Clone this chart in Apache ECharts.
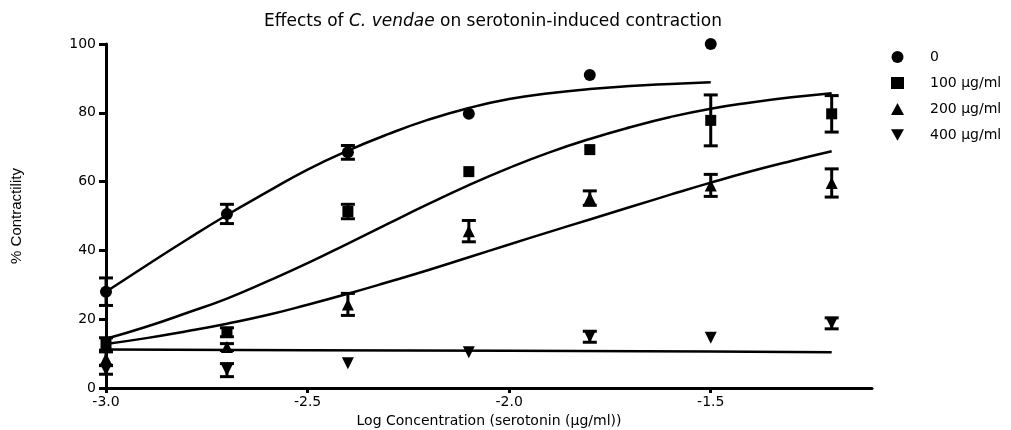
<!DOCTYPE html>
<html><head><meta charset="utf-8">
<script src="https://cdn.jsdelivr.net/npm/echarts@6/dist/echarts.min.js"></script>
<style>html,body{margin:0;padding:0;background:#fff}#c{width:1011px;height:430px}</style>
</head><body><div id="c"></div>
<script>
// ---- data ----
const doseX = [-3.0, -2.7, -2.4, -2.1, -1.8, -1.5, -1.2];
const seriesNames = ['0', '100 µg/ml', '200 µg/ml', '400 µg/ml'];
const ctrlMean = [28, 50.6, 68.5, 79.7, 91, 100];
const ctrlSem  = [4, 2.8, 2, 0, 0, 0];
const c100Mean = [12.8, 16.2, 51.3, 62.9, 69.3, 77.8, 79.7];
const c100Sem  = [1.8, 1.3, 2.1, 0, 0, 7.4, 5.3];
const c200Mean = [8.5, 11.9, 24.3, 45.6, 55.2, 58.9, 59.6];
const c200Sem  = [2, 1, 3.2, 3.1, 2.1, 3.2, 4.1];
const c400Mean = [5.3, 5.2, 7.2, 10.4, 14.9, 14.6, 18.8];
const c400Sem  = [1.3, 1.9, 0, 0, 1.6, 0, 1.6];
// fitted curves
const fitX = [-3.0,-2.9,-2.8,-2.7,-2.6,-2.5,-2.4,-2.3,-2.2,-2.1,-2.0,-1.9,-1.8,-1.7,-1.6,-1.5,-1.4,-1.3,-1.2];
const fitCtrl = [28,35.6,43.1,50.3,57,63.5,69,73.8,78,81.4,84,85.7,86.9,87.8,88.4,88.9];
const fit100 = [14.3,17.8,21.8,26,31,36.3,42,47.8,53.5,59,64,68.5,72.4,75.8,78.8,81.2,83,84.5,85.7];
const fit200 = [12.8,14.5,16.5,18.7,21.2,24.2,27.4,30.8,34.3,38,41.7,45.4,49,52.6,56.2,59.7,63,66,68.8];
const fit400X = [-3.0, -2.5, -2.0, -1.5, -1.2];
const fit400 = [11.2, 11.0, 10.8, 10.6, 10.4];
const xTicks = [-3.0, -2.5, -2.0, -1.5];

const downTri = 'path://M0,0 L10,0 L5,9 Z';
const symbols = ['circle', 'rect', 'triangle', downTri];
const sizes = [12, 11, 12, 12];
const means = [ctrlMean, c100Mean, c200Mean, c400Mean];
const sems = [ctrlSem, c100Sem, c200Sem, c400Sem];
const fits = [[fitX, fitCtrl], [fitX, fit100], [fitX, fit200], [fit400X, fit400]];

function errRender(params, api) {
  const x = api.value(0), y = api.value(1), e = api.value(2);
  const t = api.coord([x, y + e]), b = api.coord([x, y - e]);
  const hw = 7, st = {stroke: '#000', lineWidth: 3};
  return {type: 'group', children: [
    {type: 'line', shape: {x1: t[0], y1: t[1], x2: b[0], y2: b[1]}, style: st},
    {type: 'line', shape: {x1: t[0]-hw, y1: t[1], x2: t[0]+hw, y2: t[1]}, style: st},
    {type: 'line', shape: {x1: b[0]-hw, y1: b[1], x2: b[0]+hw, y2: b[1]}, style: st}
  ]};
}

const series = [];
fits.forEach((f, i) => {
  series.push({type: 'line', name: 'fit' + i, data: f[1].map((v, k) => [f[0][k], v]),
    symbol: 'none', smooth: i < 3 ? true : false, lineStyle: {color: '#000', width: 2.5}, z: 2, silent: true});
});
means.forEach((m, i) => {
  const ed = [];
  m.forEach((v, k) => { if (sems[i][k] > 0) ed.push([doseX[k], v, sems[i][k]]); });
  series.push({type: 'custom', name: 'err' + i, data: ed, renderItem: errRender, z: 3, clip: false, silent: true});
  series.push({type: 'scatter', name: seriesNames[i], data: m.map((v, k) => [doseX[k], v]),
    symbol: symbols[i], symbolSize: sizes[i], itemStyle: {color: '#000', opacity: 1}, z: 4, clip: false});
});

const chart = echarts.init(document.getElementById('c'), null, {renderer: 'canvas'});
chart.setOption({
  animation: false,
  textStyle: {fontFamily: 'DejaVu Sans', color: '#000'},
  title: {
    text: '{n|Effects of }{i|C. vendae}{n| on serotonin-induced contraction}',
    left: 488, top: 8, textAlign: 'center',
    textStyle: {fontWeight: 'normal', rich: {
      n: {fontFamily: 'DejaVu Sans', fontWeight: 'normal', fontSize: 17, color: '#000'},
      i: {fontFamily: 'DejaVu Sans', fontWeight: 'normal', fontStyle: 'italic', fontSize: 17, color: '#000'}
    }}
  },
  legend: {
    data: seriesNames.map((n, i) => ({name: n, icon: symbols[i], itemStyle: {color: '#000', opacity: 1}})),
    orient: 'vertical', left: 886, top: 45, itemGap: 12, itemWidth: 13, itemHeight: 12,
    textStyle: {fontFamily: 'DejaVu Sans', fontSize: 14, color: '#000', padding: [0, 0, 0, 21]}
  },
  grid: {left: 106, right: 139, top: 44, bottom: 42, containLabel: false, outerBoundsMode: 'none'},
  xAxis: {
    type: 'value', min: -3.0, max: -1.1,
    name: 'Log Concentration (serotonin (µg/ml))', nameLocation: 'middle', nameGap: 24,
    nameTextStyle: {fontFamily: 'DejaVu Sans', fontSize: 14, color: '#000'},
    axisLine: {show: true, lineStyle: {color: '#000', width: 3}},
    axisTick: {show: true, length: 5, lineStyle: {color: '#000', width: 3}, customValues: xTicks},
    axisLabel: {color: '#000', fontFamily: 'DejaVu Sans', fontSize: 14, margin: 7,
      customValues: xTicks, formatter: v => v.toFixed(1)},
    splitLine: {show: false}
  },
  yAxis: {
    type: 'value', min: 0, max: 100, interval: 20,
    name: '% Contractility', nameLocation: 'middle', nameGap: 82, nameRotate: 90,
    nameTextStyle: {fontFamily: 'Liberation Sans Narrow, Liberation Sans', fontSize: 15, color: '#000'},
    axisLine: {show: true, lineStyle: {color: '#000', width: 3}},
    axisTick: {show: true, length: 7, lineStyle: {color: '#000', width: 3}},
    axisLabel: {color: '#000', fontFamily: 'DejaVu Sans', fontSize: 14, margin: 10},
    splitLine: {show: false}
  },
  series: series
});
</script></body></html>
